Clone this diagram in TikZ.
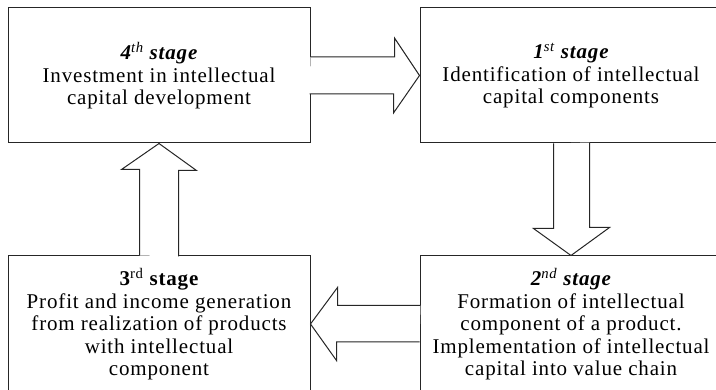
\documentclass[tikz,border=0pt]{standalone}
\usepackage{fontspec}
\setmainfont{Liberation Serif}[LetterSpace=4]
\usetikzlibrary{calc}
\begin{document}
\begin{tikzpicture}[x=1pt,y=1pt,
  stagebox/.style={draw=black!85,line width=1pt,align=center,inner sep=0pt,
    font=\fontsize{21}{22.5}\selectfont},
  barrow/.style={draw=black!85,line width=1pt,fill=white,line join=miter}]
\useasboundingbox (0,0) rectangle (716,390);
\begin{scope}
\clip (0,0) rectangle (716,390);
\node[stagebox,minimum width=302,minimum height=135] (b4) at (159,314.5)
  {{\bfseries\itshape 4\textsuperscript{\normalfont\itshape th} stage}\\Investment in intellectual\\capital development};
\node[stagebox,minimum width=302,minimum height=135] (b1) at (571,314.5)
  {{\bfseries\itshape 1\textsuperscript{\normalfont\itshape st} stage}\\Identification of intellectual\\capital components};
\node[stagebox,minimum width=302,minimum height=136] (b2) at (571,66)
  {{\bfseries\itshape 2\textsuperscript{\normalfont\itshape nd} stage}\\Formation of intellectual\\component of a product.\\Implementation of intellectual\\capital into value chain};
\node[stagebox,minimum width=302,minimum height=136] (b3) at (159,66)
  {{\bfseries 3\textsuperscript{\normalfont rd} stage}\\Profit and income generation\\from realization of products\\with intellectual\\component};
\end{scope}
% 4 -> 1 (right)
\draw[barrow] (b4.east) ++(0,18.5) -- ++(84,0) -- ++(0,19) -- (b1.west)
  -- ++(-26,-37.5) -- ++(0,19) -- ++(-84,0);
% 1 -> 2 (down)
\draw[barrow] (b1.south) ++(-17.5,0) -- ++(0,-85) -- ++(-20,0) -- (b1.south |- b2.north)
  -- ++(38.5,28) -- ++(-20,0) -- ++(0,85);
% 2 -> 3 (left)
\draw[barrow] (b2.west) ++(0,-18) -- ++(-83,0) -- ++(0,-18.5) -- (b3.east)
  -- ++(27,36.5) -- ++(0,-18) -- ++(83,0);
% 3 -> 4 (up)
\draw[barrow] (b3.north) ++(-19.5,0) -- ++(0,86) -- ++(-18,0) -- (b4.south)
  -- ++(37.5,-27) -- ++(-18,0) -- ++(0,-86);
\end{tikzpicture}
\end{document}
